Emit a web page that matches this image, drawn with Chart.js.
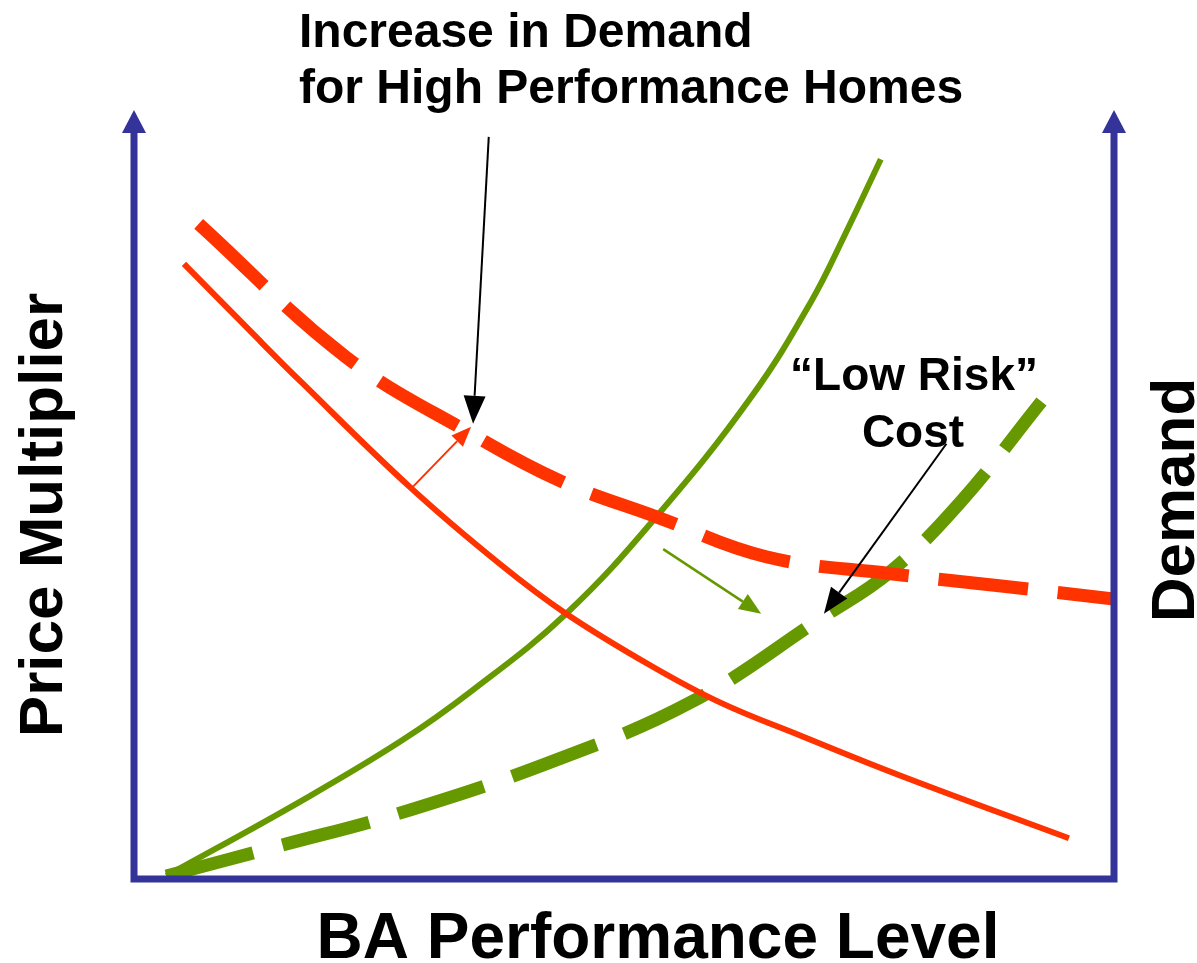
<!DOCTYPE html>
<html>
<head>
<meta charset="utf-8">
<title>BA Performance Level</title>
<script src="https://cdn.jsdelivr.net/npm/chart.js@4/dist/chart.umd.min.js"></script>
<style>
  html, body { margin: 0; padding: 0; background: #fff; }
  #wrap { width: 1197px; height: 963px; }
</style>
</head>
<body>
<div id="wrap"><canvas id="chart"></canvas></div>
<script>
// curves (x = performance level 0-100, y = 0-100)
const redSolidX = [5.1, 11.9, 17.0, 28.3, 37.4, 44.1, 52.8, 59.9, 68.1, 78.3, 95.4];
const redSolidY = [80.0, 71.2, 64.7, 50.8, 40.9, 34.5, 27.7, 22.9, 18.6, 13.4, 5.3];

const redDashX = [6.6, 21.6, 34.4, 43.6, 53.3, 64.5, 77.2, 88.5, 100];
const redDashY = [85.2, 67.9, 57.9, 51.7, 47.1, 41.9, 39.7, 38.1, 36.4];

const greenSolidX = [3.3, 17.0, 27.2, 34.4, 44.1, 53.3, 63.0, 69.1, 72.7, 76.2];
const greenSolidY = [0.4, 10.1, 17.9, 24.4, 34.5, 47.1, 62.7, 75.1, 84.2, 93.6];

const greenDashX = [3.3, 14.8, 27.2, 42.7, 57.0, 70.1, 77.2, 84.4, 92.6];
const greenDashY = [0.4, 4.3, 8.6, 15.3, 23.1, 33.9, 40.0, 49.1, 62.1];

// annotation arrows [x1, y1, x2, y2] in data units, tip at the second point
const arrowRed = [28.3, 50.8, 34.4, 58.8];
const arrowDemand = [36.2, 96.5, 34.6, 59.2];
const arrowGreen = [54.0, 42.9, 64.0, 34.5];
const arrowCost = [82.9, 56.6, 70.4, 34.5];

const RED = '#FF3300';
const GREEN = '#669900';
const NAVY = '#333399';
const FONT = '"Liberation Sans", Arial, Helvetica, sans-serif';

function pts(xs, ys) {
  return xs.map((x, i) => ({x: x, y: ys[i]}));
}

function drawArrow(ctx, chart, a, color, width, headLen, headW) {
  const xs = chart.scales.x, ys = chart.scales.y;
  const x1 = xs.getPixelForValue(a[0]), y1 = ys.getPixelForValue(a[1]);
  const x2 = xs.getPixelForValue(a[2]), y2 = ys.getPixelForValue(a[3]);
  const ang = Math.atan2(y2 - y1, x2 - x1);
  const bx = x2 - headLen * Math.cos(ang), by = y2 - headLen * Math.sin(ang);
  ctx.save();
  ctx.strokeStyle = color;
  ctx.fillStyle = color;
  ctx.lineWidth = width;
  ctx.beginPath();
  ctx.moveTo(x1, y1);
  ctx.lineTo(bx, by);
  ctx.stroke();
  ctx.beginPath();
  ctx.moveTo(x2, y2);
  ctx.lineTo(bx + headW * Math.sin(ang), by - headW * Math.cos(ang));
  ctx.lineTo(bx - headW * Math.sin(ang), by + headW * Math.cos(ang));
  ctx.closePath();
  ctx.fill();
  ctx.restore();
}

// axes with arrow heads + the texts
const decorations = {
  id: 'decorations',
  afterDatasetsDraw(chart) {
    const ctx = chart.ctx;
    const a = chart.chartArea;
    ctx.save();
    // axes
    ctx.strokeStyle = NAVY;
    ctx.fillStyle = NAVY;
    ctx.lineWidth = 7;
    ctx.lineCap = 'butt';
    ctx.beginPath();
    ctx.moveTo(a.left, a.bottom + 3.5);
    ctx.lineTo(a.left, a.top + 20);
    ctx.moveTo(a.right, a.bottom + 3.5);
    ctx.lineTo(a.right, a.top + 20);
    ctx.moveTo(a.left - 3.5, a.bottom);
    ctx.lineTo(a.right + 3.5, a.bottom);
    ctx.stroke();
    [a.left, a.right].forEach(x => {
      ctx.beginPath();
      ctx.moveTo(x, a.top);
      ctx.lineTo(x + 12, a.top + 23);
      ctx.lineTo(x - 12, a.top + 23);
      ctx.closePath();
      ctx.fill();
    });

    // arrows
    drawArrow(ctx, chart, arrowRed, RED, 2, 20, 8);
    drawArrow(ctx, chart, arrowDemand, '#000', 2, 28, 11);
    drawArrow(ctx, chart, arrowGreen, GREEN, 2.5, 22, 9);
    drawArrow(ctx, chart, arrowCost, '#000', 2, 26, 10);

    // texts
    ctx.fillStyle = '#000';
    ctx.textBaseline = 'alphabetic';
    ctx.font = 'bold 48px ' + FONT;
    ctx.textAlign = 'left';
    ctx.fillText('Increase in Demand', 299, 47);
    ctx.fillText('for High Performance Homes', 299, 103);
    ctx.font = 'bold 46px ' + FONT;
    ctx.textAlign = 'center';
    ctx.fillText('\u201CLow Risk\u201D', 914, 390);
    ctx.fillText('Cost', 913, 447);

    ctx.font = 'bold 64px ' + FONT;
    ctx.fillText('BA Performance Level', 658, 958);
    ctx.font = 'bold 62px ' + FONT;
    ctx.save();
    ctx.translate(62, 515);
    ctx.rotate(-Math.PI / 2);
    ctx.fillText('Price Multiplier', 0, 0);
    ctx.restore();
    ctx.save();
    ctx.translate(1194, 500);
    ctx.rotate(-Math.PI / 2);
    ctx.fillText('Demand', 0, 0);
    ctx.restore();
    ctx.restore();
  }
};

const data = {
  datasets: [
    {
      label: 'Demand',
      data: pts(redSolidX, redSolidY),
      borderColor: RED,
      borderWidth: 6,
      tension: 0.4
    },
    {
      label: 'Increased demand',
      data: pts(redDashX, redDashY),
      borderColor: RED,
      borderWidth: 13,
      borderDash: [90, 30],
      tension: 0.4
    },
    {
      label: 'Cost',
      data: pts(greenSolidX, greenSolidY),
      borderColor: GREEN,
      borderWidth: 6,
      tension: 0.4
    },
    {
      label: 'Low risk cost',
      data: pts(greenDashX, greenDashY),
      borderColor: GREEN,
      borderWidth: 13,
      borderDash: [90, 30],
      tension: 0.4
    }
  ]
};

const config = {
  type: 'scatter',
  data: data,
  options: {
    responsive: true,
    maintainAspectRatio: false,
    animation: false,
    showLine: true,
    elements: { point: { radius: 0, hoverRadius: 0 } },
    layout: { padding: { left: 134, right: 83, top: 110, bottom: 84 } },
    scales: {
      x: { type: 'linear', min: 0, max: 100, display: false },
      y: { type: 'linear', min: 0, max: 100, display: false }
    },
    plugins: {
      legend: { display: false },
      tooltip: { enabled: false }
    }
  },
  plugins: [decorations]
};

new Chart(document.getElementById('chart'), config);
</script>
</body>
</html>
